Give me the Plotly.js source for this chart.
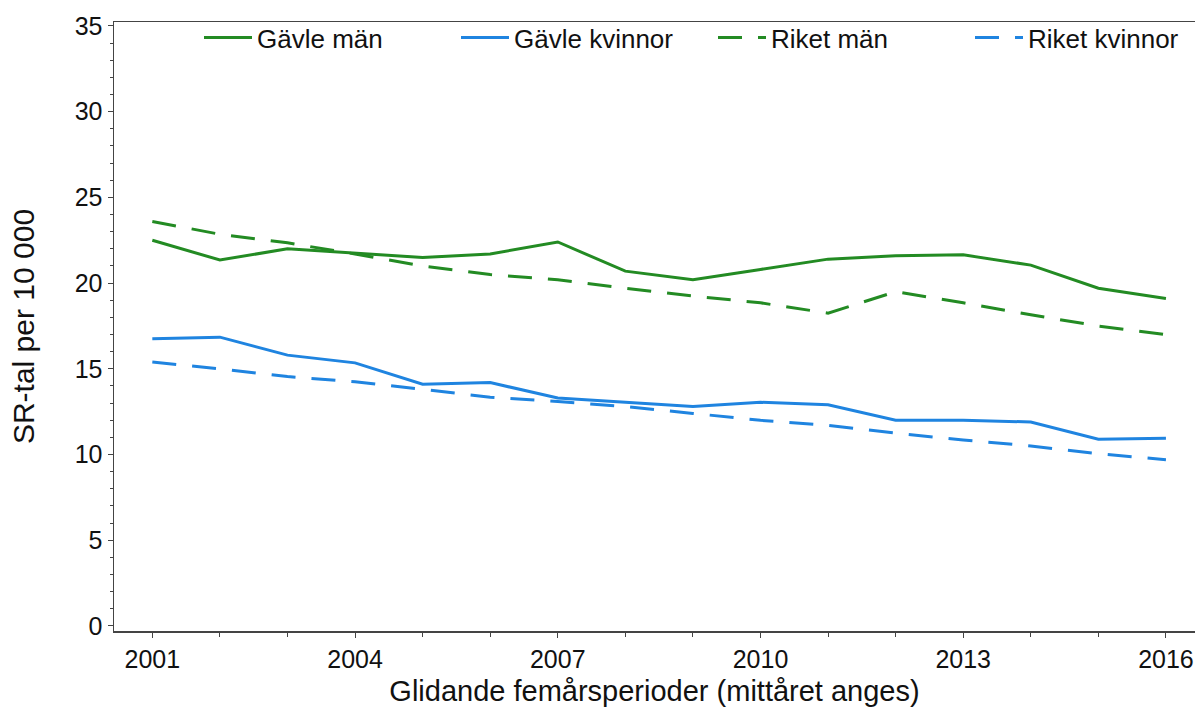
<!DOCTYPE html>
<html>
<head>
<meta charset="utf-8">
<script src="https://cdn.plot.ly/plotly-3.0.1.min.js"></script>
<style>html,body{margin:0;padding:0;background:#fff;}#chart{width:1195px;height:708px;}</style>
</head>
<body>
<div id="chart"></div>
<script>
const years = [2001,2002,2003,2004,2005,2006,2007,2008,2009,2010,2011,2012,2013,2014,2015,2016];
const gavleMan      = [22.5,21.35,22.0,21.75,21.5,21.7,22.4,20.7,20.2,20.8,21.4,21.6,21.65,21.05,19.7,19.1];
const gavleKvinnor  = [16.75,16.85,15.8,15.35,14.1,14.2,13.3,13.05,12.8,13.05,12.9,12.0,12.0,11.9,10.9,10.95];
const riketMan      = [23.6,22.85,22.35,21.7,21.0,20.5,20.2,19.7,19.25,18.85,18.25,19.5,18.85,18.15,17.5,17.0];
const riketKvinnor  = [15.4,15.0,14.55,14.25,13.8,13.35,13.1,12.8,12.4,12.0,11.7,11.25,10.85,10.5,10.05,9.7];
const seriesNames = ['Gävle män','Gävle kvinnor','Riket män','Riket kvinnor'];
const xTitle = 'Glidande femårsperioder (mittåret anges)';
const yTitle = 'SR-tal per 10 000';

const green = '#238b23', blue = '#1f84e0';
const dashPat = '24px,16px';
const legendIds = ['legend','legend2','legend3','legend4'];
const traces = [
  {x: years, y: gavleMan, name: seriesNames[0], line: {color: green, width: 3}},
  {x: years, y: gavleKvinnor, name: seriesNames[1], line: {color: blue, width: 3}},
  {x: years, y: riketMan, name: seriesNames[2], line: {color: green, width: 3, dash: dashPat}},
  {x: years, y: riketKvinnor, name: seriesNames[3], line: {color: blue, width: 3, dash: dashPat}}
].map((t, i) => Object.assign({type: 'scatter', mode: 'lines', hoverinfo: 'skip', legend: legendIds[i]}, t));

const font = 'Liberation Sans, Arial, sans-serif';
const W = 1195, ML = 114, PW = W - ML;
const ITEMW = 48;
// legend text start positions (px) in the reference: 257, 514, 771, 1028
const legendTextPx = [257, 514, 771, 1028];
const layout = {
  width: W, height: 708,
  margin: {l: ML, r: 0, t: 22, b: 77, pad: 0},
  paper_bgcolor: '#fff', plot_bgcolor: '#fff',
  font: {family: font, color: '#111', size: 25},
  showlegend: true,
  xaxis: {
    range: [2000.433, 2016.43], tick0: 2001, dtick: 3, tickmode: 'linear',
    showgrid: false, zeroline: false,
    showline: true, linecolor: '#444', linewidth: 1.5, mirror: true,
    ticks: 'outside', ticklen: 5, tickcolor: '#444', tickwidth: 1,
    tickfont: {family: font, size: 25, color: '#111'},
    minor: {dtick: 1, tick0: 2001, ticks: 'outside', ticklen: 4, tickcolor: '#444', showgrid: false},
    title: {text: xTitle, font: {family: font, size: 29, color: '#111'}, standoff: 9}
  },
  yaxis: {
    range: [-0.292, 35.233], tick0: 0, dtick: 5, tickmode: 'linear',
    showgrid: false, zeroline: false,
    showline: true, linecolor: '#444', linewidth: 1.5,
    ticks: 'outside', ticklen: 5, tickcolor: '#444', tickwidth: 1,
    tickfont: {family: font, size: 25, color: '#111'},
    minor: {dtick: 1, tick0: 0, ticks: 'outside', ticklen: 3, tickcolor: '#444', showgrid: false},
    title: {text: yTitle, font: {family: font, size: 30, color: '#111'}, standoff: 31}
  }
};
legendIds.forEach((id, i) => {
  layout[id] = {
    orientation: 'h', x: (legendTextPx[i] - ITEMW - 10 - ML) / PW, xanchor: 'left',
    y: 1.013, yanchor: 'top', itemwidth: ITEMW,
    font: {family: font, size: 26, color: '#111'},
    bgcolor: 'rgba(0,0,0,0)', borderwidth: 0
  };
});
Plotly.newPlot('chart', traces, layout, {displayModeBar: false, staticPlot: true});
</script>
</body>
</html>
